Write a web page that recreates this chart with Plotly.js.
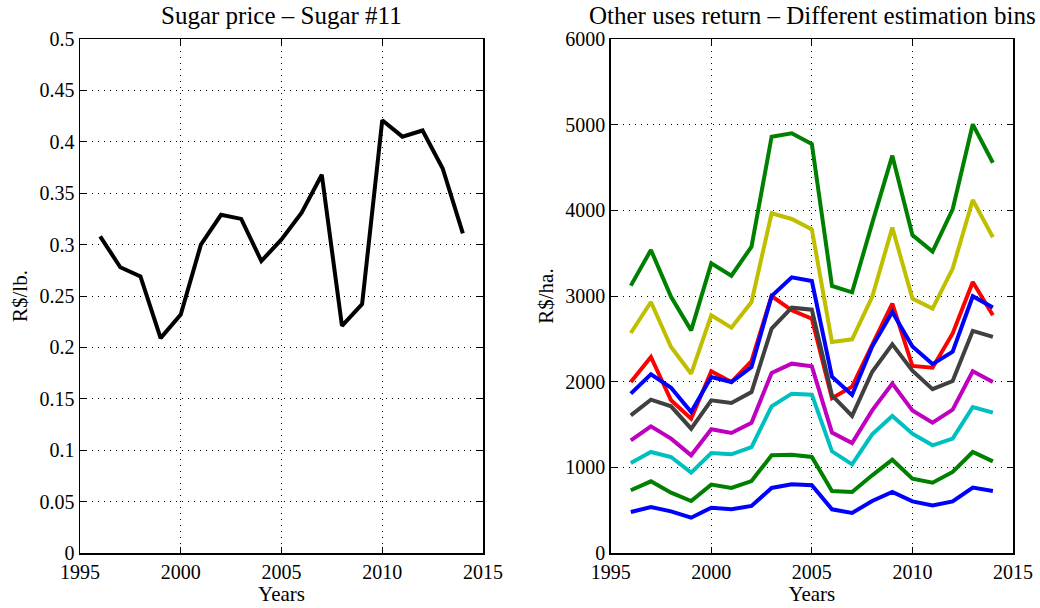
<!DOCTYPE html>
<html>
<head>
<meta charset="utf-8">
<script src="https://cdn.plot.ly/plotly-3.0.1.min.js"></script>
<style>html,body{margin:0;padding:0;background:#fff;}#chart{width:1040px;height:608px;}</style>
</head>
<body>
<div id="chart"></div>
<script>
// ---- Data ----
const years = [1996,1997,1998,1999,2000,2001,2002,2003,2004,2005,2006,2007,2008,2009,2010,2011,2012,2013,2014];

const sugarPrice = [0.308,0.278,0.269,0.209,0.232,0.300,0.329,0.325,0.284,0.305,0.331,0.368,0.221,0.242,0.421,0.405,0.411,0.374,0.311];

// Other uses return, one series per estimation bin (lowest to highest)
const bin1 = [479,537,486,412,529,510,549,759,802,790,510,467,607,712,603,556,603,763,724];
const bin2 = [732,837,704,607,798,759,840,1140,1148,1121,724,712,907,1089,868,821,946,1179,1070];
const bin3 = [1996,2288,1782,1568,2121,1996,2241,3000,2833,2735,1807,1942,2430,2911,2183,2163,2563,3163,2776];
const bin4 = [1051,1179,1121,938,1167,1152,1237,1712,1860,1848,1187,1035,1385,1599,1393,1257,1335,1704,1638];
const bin5 = [1315,1479,1335,1140,1444,1401,1521,2101,2210,2179,1405,1284,1665,1977,1665,1521,1673,2121,1996];
const bin6 = [2568,2930,2405,2093,2774,2630,2930,3965,3899,3778,2463,2494,2990,3798,2970,2853,3320,4121,3685];
const bin7 = [1607,1790,1712,1451,1782,1751,1879,2619,2864,2840,1840,1600,2116,2435,2128,1913,2008,2593,2523];
const bin8 = [1860,2086,1930,1646,2054,1996,2171,3000,3218,3175,2058,1845,2410,2813,2410,2205,2349,2997,2865];
const bin9 = [3121,3537,2990,2599,3381,3237,3576,4860,4899,4774,3117,3043,3850,4638,3712,3518,4012,5004,4556];

const binSeries = [bin1,bin2,bin3,bin4,bin5,bin6,bin7,bin8,bin9];
const binColors = ['#0000ff','#008000','#ff0000','#00bfbf','#bf00bf','#bfbf00','#404040','#0000ff','#008000'];

const xTickVals = [1995,2000,2005,2010,2015];
const xTickText = ['1995','2000','2005','2010','2015'];
const leftTickVals = [0,0.05,0.1,0.15,0.2,0.25,0.3,0.35,0.4,0.45,0.5];
const leftTickText = ['0','0.05','0.1','0.15','0.2','0.25','0.3','0.35','0.4','0.45','0.5'];
const rightTickVals = [0,1000,2000,3000,4000,5000,6000];
const rightTickText = ['0','1000','2000','3000','4000','5000','6000'];

// ---- Traces ----
const traces = [{
  x: years, y: sugarPrice, type: 'scatter', mode: 'lines',
  line: {color: '#000000', width: 4}, xaxis: 'x', yaxis: 'y', hoverinfo: 'skip'
}];
binSeries.forEach((s, i) => {
  traces.push({
    x: years, y: s, type: 'scatter', mode: 'lines',
    line: {color: binColors[i], width: 4}, xaxis: 'x2', yaxis: 'y2', hoverinfo: 'skip'
  });
});

const FONT = 'Liberation Serif';
function xAxis(domain, anchor) {
  return {
    domain: domain, anchor: anchor, range: [1995, 2015],
    tickmode: 'array', tickvals: xTickVals, ticktext: xTickText,
    ticks: 'inside', ticklen: 6, tickcolor: '#000', tickwidth: 1,
    showline: true, linecolor: '#000', linewidth: 1.5, mirror: 'ticks',
    showgrid: true, gridcolor: '#000', gridwidth: 1, griddash: '1px,5px',
    zeroline: false, tickfont: {family: FONT, size: 20, color: '#000'},
    title: {text: 'Years', font: {family: FONT, size: 21, color: '#000'}, standoff: 0},
    fixedrange: true
  };
}
function yAxis(domain, anchor, range, vals, text, title) {
  return {
    domain: domain, anchor: anchor, range: range,
    tickmode: 'array', tickvals: vals, ticktext: text,
    ticks: 'inside', ticklen: 6, tickcolor: '#000', tickwidth: 1,
    showline: true, linecolor: '#000', linewidth: 1.5, mirror: 'ticks',
    showgrid: true, gridcolor: '#000', gridwidth: 1, griddash: '1px,5px',
    zeroline: false, tickfont: {family: FONT, size: 20, color: '#000'},
    title: {text: title, font: {family: FONT, size: 21, color: '#000'}, standoff: 6},
    fixedrange: true
  };
}

const yDom = [55/608, 569/608];
const layout = {
  width: 1040, height: 608,
  margin: {l: 0, r: 0, t: 0, b: 0},
  font: {family: FONT, size: 20, color: '#000'},
  paper_bgcolor: '#fff', plot_bgcolor: '#fff',
  showlegend: false,
  xaxis: xAxis([80/1040, 483/1040], 'y'),
  yaxis: yAxis(yDom, 'x', [0, 0.5], leftTickVals, leftTickText, 'R$/lb.'),
  xaxis2: xAxis([610.7/1040, 1013/1040], 'y2'),
  yaxis2: yAxis(yDom, 'x2', [0, 6000], rightTickVals, rightTickText, 'R$/ha.'),
  annotations: [
    {text: 'Sugar price – Sugar #11', xref: 'paper', yref: 'paper', x: 281.5/1040, y: (608-16)/608,
     xanchor: 'center', yanchor: 'middle', showarrow: false, font: {family: FONT, size: 25, color: '#000'}},
    {text: 'Other uses return – Different estimation bins', xref: 'paper', yref: 'paper', x: 812/1040, y: (608-16)/608,
     xanchor: 'center', yanchor: 'middle', showarrow: false, font: {family: FONT, size: 25, color: '#000'}}
  ]
};

Plotly.newPlot('chart', traces, layout, {displayModeBar: false, staticPlot: true});
</script>
</body>
</html>
